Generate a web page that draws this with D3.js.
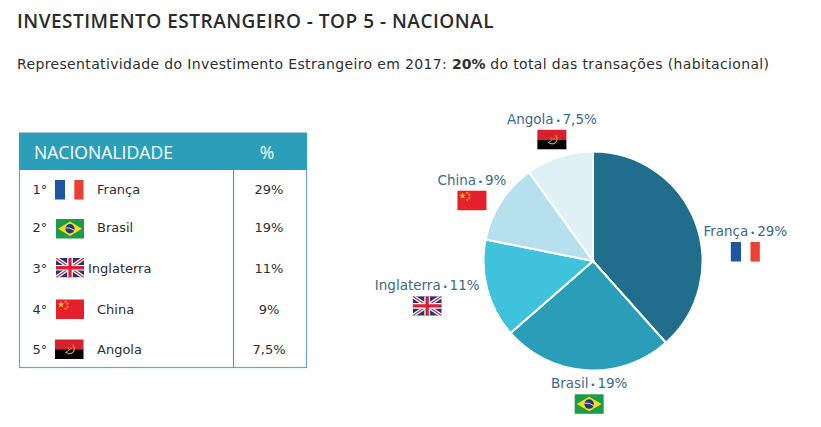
<!DOCTYPE html>
<html><head><meta charset="utf-8">
<script src="https://cdn.jsdelivr.net/npm/d3@7"></script>
<style>html,body{margin:0;padding:0;background:#fff}svg{display:block}text{font-family:"DejaVu Sans",sans-serif}</style>
</head><body><svg id="c" width="821" height="427"></svg>
<script>
const categories=["França","Brasil","Inglaterra","China","Angola"];
const values=[29,19,11,9,7.5];
const valueLabels=["29%","19%","11%","9%","7,5%"];
const ranks=["1°","2°","3°","4°","5°"];
const sliceColors=["#206d8c","#2a9db8","#3fc2dc","#b6e0ee","#dff0f7"];
const flagKeys=["fr","br","uk","cn","ao"];
const titleText="INVESTIMENTO ESTRANGEIRO - TOP 5 - NACIONAL";

const svg=d3.select("#c");
function flag(g,key,x,y,w,h,id){
  const f=g.append("g").attr("transform",`translate(${x},${y}) scale(${w/28},${h/19})`);
  const r=(a,b,c,d,col)=>f.append("rect").attr("x",a).attr("y",b).attr("width",c).attr("height",d).attr("fill",col);
  if(key==="fr"){r(0,0,10,19,"#1f56a0");r(10,0,8,19,"#fff");r(19,0,9,19,"#ee3e36");}
  if(key==="br"){r(0,0,28,19,"#1c9c48");f.append("path").attr("d","M14,2.5L26,9.5L14,16.5L2,9.5Z").attr("fill","#f5dc1e");f.append("circle").attr("cx",14).attr("cy",9.5).attr("r",4.6).attr("fill","#27367f");f.append("path").attr("d","M9.6,8.6Q14,8 18.4,11").attr("stroke","#fff").attr("stroke-width",.8).attr("fill","none");}
  if(key==="uk"){
    const cid="cl"+id;
    f.append("clipPath").attr("id",cid).append("rect").attr("width",28).attr("height",19);
    const u=f.append("g").attr("clip-path",`url(#${cid})`);
    u.append("rect").attr("width",28).attr("height",19).attr("fill","#2b3272");
    const l=(d,col,sw)=>u.append("path").attr("d",d).attr("stroke",col).attr("stroke-width",sw).attr("fill","none");
    l("M0,0L28,19M28,0L0,19","#fff",3.6);l("M0,0L28,19M28,0L0,19","#d42a3c",1.2);
    l("M14,0V19M0,9.5H28","#fff",5.6);l("M14,0V19M0,9.5H28","#d4213a",3.2);
  }
  if(key==="cn"){r(0,0,28,19,"#e5202a");
    const star=d3.symbol().type(d3.symbolStar);
    f.append("path").attr("d",star.size(14)()).attr("transform","translate(5,5)").attr("fill","#f7c62b");
    [[9.5,2],[11.5,4],[11.5,7],[9.5,9]].forEach(p=>f.append("path").attr("d",star.size(2.5)()).attr("transform",`translate(${p[0]},${p[1]})`).attr("fill","#f7c62b"));
  }
  if(key==="ao"){r(0,0,28,9.5,"#d8202f");r(0,9.5,28,9.5,"#000");
    f.append("path").attr("d","M17.5,5.5A4.5,4.5 0 1 1 11,12.5").attr("stroke","#e0a52a").attr("stroke-width",1.1).attr("fill","none");
    f.append("path").attr("d","M10,13L17,8").attr("stroke","#e0a52a").attr("stroke-width",.9);
    f.append("path").attr("d","M12.5,7L14,8.5L13,9.5Z").attr("fill","#e0a52a");
  }
}

svg.append("text").text(titleText).attr("x",17).attr("y",28).attr("fill","#2b2b2e")
  .style("font-family","'Open Sans'").style("font-size","19px").style("font-weight",600).style("letter-spacing","0.5px");
const sub=svg.append("text").attr("x",17).attr("y",69).attr("fill","#2e2e30").style("font-size","14px").style("letter-spacing","0.36px");
sub.append("tspan").text("Representatividade do Investimento Estrangeiro em 2017: ");
sub.append("tspan").text("20%").style("font-weight",700).style("letter-spacing","0");
sub.append("tspan").text(" do total das transações (habitacional)");

// table
const T={x0:19.5,x1:306.5,y0:133,y1:367.5,head:37,div:233.5};
const tg=svg.append("g");
tg.append("rect").attr("x",T.x0).attr("y",T.y0).attr("width",T.x1-T.x0).attr("height",T.y1-T.y0).attr("fill","#fff").attr("stroke","#6aa9ba").attr("stroke-width",1.2);
tg.append("rect").attr("x",T.x0-.5).attr("y",T.y0).attr("width",T.x1-T.x0+1).attr("height",T.head).attr("fill","#2b9fba");
tg.append("line").attr("x1",T.div).attr("x2",T.div).attr("y1",T.y0+T.head).attr("y2",T.y1).attr("stroke","#4f93a8").attr("stroke-width",1.1);
tg.append("text").text("NACIONALIDADE").attr("x",34).attr("y",158.5).attr("fill","#fff").style("font-family","'Open Sans'").style("font-size","17.6px");
tg.append("text").text("%").attr("x",267).attr("y",158.5).attr("text-anchor","middle").attr("fill","#fff").style("font-family","'Open Sans'").style("font-size","17.6px");
const rowY=d3.scaleOrdinal().domain(categories).range([189.5,228.5,267.5,309,349]);
const textY=[194,232,273,314,354];
const nameX=[97,97,88,97,97];
categories.forEach((c,i)=>{
  const y=rowY(c);
  const txt=(s,x,a)=>tg.append("text").text(s).attr("x",x).attr("y",textY[i]).attr("text-anchor",a||"start").attr("fill","#2e2e30").style("font-size","13px");
  txt(ranks[i],32.5);
  flag(tg,flagKeys[i],i==0||i==4?55:56,y-9.5,i==0||i==4?28.5:28,19.5,"t"+i);
  txt(c,nameX[i]);
  txt(valueLabels[i],269,"middle");
});

// pie
const R=109.5,cx=593,cy=261;
const pie=d3.pie().sort(null).value(d=>d)(values);
const arc=d3.arc().innerRadius(0).outerRadius(R);
const edge=d3.arc().innerRadius(R).outerRadius(R);
const pg=svg.append("g").attr("transform",`translate(${cx},${cy})`);
pg.selectAll("path").data(pie).join("path").attr("d",arc).attr("fill",(d,i)=>sliceColors[i]).attr("stroke","#fff").attr("stroke-width",2);
const labelOffset=[[50,14],[3,18],[-60,1],[-29,-17],[-7.5,-33]];
pie.forEach((d,i)=>{
  const [ex,ey]=edge.centroid(d);
  const lx=ex+labelOffset[i][0],ly=ey+labelOffset[i][1];
  const t=pg.append("text").attr("x",lx).attr("y",ly).attr("text-anchor","middle").attr("fill","#3b6a86").style("font-size","13.5px");
  t.append("tspan").text(categories[i]);
  t.append("tspan").text("\u2009•\u2009").style("font-size","9px");
  t.append("tspan").text(valueLabels[i]);
  flag(pg,flagKeys[i],lx-14.5,ly+6,29,19.5,"p"+i);
});
</script></body></html>
